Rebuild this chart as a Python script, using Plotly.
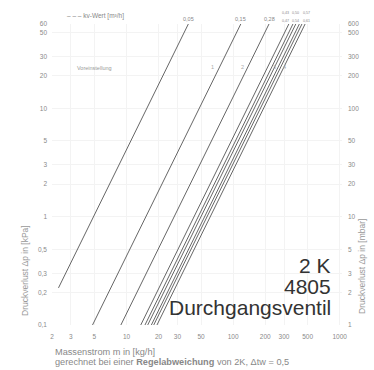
import math
import plotly.graph_objects as go

# ---------------- data ----------------
x_ticks = [2, 3, 5, 10, 20, 30, 50, 100, 200, 300, 500, 1000]
x_ticktext = ["2", "3", "5", "10", "20", "30", "50", "100", "200", "300", "500", "1000"]

y_ticks = [0.1, 0.2, 0.3, 0.5, 1, 2, 3, 5, 10, 20, 30, 50, 60]
y_ticktext_kpa = ["0,1", "0,2", "0,3", "0,5", "1", "2", "3", "5", "10", "20", "30", "50", "60"]
y_ticktext_mbar = ["1", "2", "3", "5", "10", "20", "30", "50", "100", "200", "300", "500", "600"]

# kv lines: start / end points (mass flow kg/h, pressure drop kPa)
kv_labels = ["0,05", "0,15", "0,28", "0,43", "0,47", "0,50", "0,54", "0,57", "0,61"]
m_start = [2.3, 4.8, 8.85, 13.6, 14.9, 15.8, 17.1, 18.0, 19.3]
dp_start = [0.22, 0.1, 0.1, 0.1, 0.1, 0.1, 0.1, 0.1, 0.1]
m_end = [38.0, 118, 217, 333, 364, 387, 418, 442, 473]
dp_end = [60, 60, 60, 60, 60, 60, 60, 60, 60]

preset_labels = ["1", "2", "3", "4"]

# ---------------- figure ----------------
FONT = "Liberation Sans, Arial, sans-serif"
L, R, T, B = 52, 32, 24, 45
W, H = 374, 370
PW, PH = W - L - R, H - T - B


def px_x(px):
    return (px - L) / PW


def px_y(py):
    return (H - B - py) / PH


fig = go.Figure()
for i in range(len(kv_labels)):
    fig.add_trace(go.Scatter(
        x=[m_start[i], m_end[i]], y=[dp_start[i], dp_end[i]],
        mode="lines", line=dict(color="#555555", width=0.9),
        showlegend=False, hoverinfo="skip", cliponaxis=False))

# invisible trace for right axis
fig.add_trace(go.Scatter(x=[m_start[0]], y=[dp_start[0]], yaxis="y2",
                         mode="markers", marker=dict(opacity=0),
                         showlegend=False, hoverinfo="skip"))

axis_font = dict(family=FONT, size=6.5, color="#8a8a8a")
fig.update_layout(
    width=W, height=H,
    margin=dict(l=L, r=R, t=T, b=B, pad=0),
    paper_bgcolor="white", plot_bgcolor="white",
    font=dict(family=FONT, color="#777"),
    xaxis=dict(type="log", range=[0.30103, 3.0212], tickvals=x_ticks,
               ticktext=x_ticktext, tickfont=axis_font, showgrid=True,
               gridcolor="#f3f3f3", gridwidth=1, zeroline=False,
               showline=False, ticks="", ticklabelstandoff=6),
    yaxis=dict(type="log", range=[-1, 1.77815], tickvals=y_ticks,
               ticktext=y_ticktext_kpa, tickfont=axis_font, showgrid=True,
               gridcolor="#f3f3f3", gridwidth=1, zeroline=False,
               showline=False, ticks="", ticklabelstandoff=4),
    yaxis2=dict(type="log", range=[-1, 1.77815], tickvals=y_ticks,
                ticktext=y_ticktext_mbar, tickfont=axis_font, overlaying="y",
                side="right", showgrid=False, zeroline=False, showline=False,
                ticks="", ticklabelstandoff=5),
)

ann = []
# kv labels above the lines; the dense bundle is labelled in two rows
bundle_px = [285, 295.5, 306]
for i, lab in enumerate(kv_labels):
    if i < 3:
        ann.append(dict(x=math.log10(m_end[i]), y=px_y(19), xref="x", yref="paper",
                        text=lab, showarrow=False,
                        font=dict(size=5.5, color="#888", family=FONT),
                        xanchor="center", yanchor="middle"))
    else:
        k = i - 3
        row_y = px_y(13) if k % 2 == 0 else px_y(21)
        ann.append(dict(x=px_x(bundle_px[k // 2]), y=row_y, xref="paper", yref="paper",
                        text=lab, showarrow=False,
                        font=dict(size=3.6, color="#888", family=FONT),
                        xanchor="center", yanchor="middle"))

ann.append(dict(x=px_x(95), y=px_y(16), xref="paper", yref="paper",
                text="– – – kv-Wert [m³/h]", showarrow=False,
                xanchor="center", yanchor="middle",
                font=dict(size=6.5, color="#888", family=FONT)))
ann.append(dict(x=px_x(94), y=px_y(68), xref="paper", yref="paper",
                text="Voreinstellung", showarrow=False,
                xanchor="center", yanchor="middle",
                font=dict(size=5.5, color="#999", family=FONT)))
for lab, p in zip(preset_labels, [212, 242, 274, 284]):
    ann.append(dict(x=px_x(p), y=px_y(67), xref="paper", yref="paper",
                    text=lab, showarrow=False, xanchor="center", yanchor="middle",
                    font=dict(size=5.5, color="#aaa", family=FONT)))

# axis titles
ann.append(dict(x=px_x(25), y=px_y(271), xref="paper", yref="paper",
                text="Druckverlust Δp in [kPa]", textangle=-90, showarrow=False,
                xanchor="center", yanchor="middle",
                font=dict(size=8.5, color="#999", family=FONT)))
ann.append(dict(x=px_x(362), y=px_y(267), xref="paper", yref="paper",
                text="Druckverlust Δp in [mbar]", textangle=-90, showarrow=False,
                xanchor="center", yanchor="middle",
                font=dict(size=8.5, color="#999", family=FONT)))

# bottom notes
ann.append(dict(x=px_x(53), y=px_y(352), xref="paper", yref="paper",
                text="Massenstrom m in [kg/h]", showarrow=False,
                xanchor="left", yanchor="middle",
                font=dict(size=9.2, color="#888", family=FONT)))
ann.append(dict(x=px_x(53), y=px_y(362), xref="paper", yref="paper",
                text="gerechnet bei einer <b>Regelabweichung</b> von 2K, Δtw = 0,5",
                showarrow=False, xanchor="left", yanchor="middle",
                font=dict(size=9.2, color="#888", family=FONT)))

# big product text
for txt, py in [("2 K", 265), ("4805", 286), ("Durchgangsventil", 307)]:
    ann.append(dict(x=px_x(333), y=px_y(py), xref="paper", yref="paper",
                    text=txt, showarrow=False, xanchor="right", yanchor="middle",
                    font=dict(size=21, color="#333", family=FONT)))

fig.update_layout(annotations=ann)
fig.write_html("out.html", include_plotlyjs=True,
               config={"displayModeBar": False},
               post_script="document.body.style.margin='0';document.body.style.overflow='hidden';")
